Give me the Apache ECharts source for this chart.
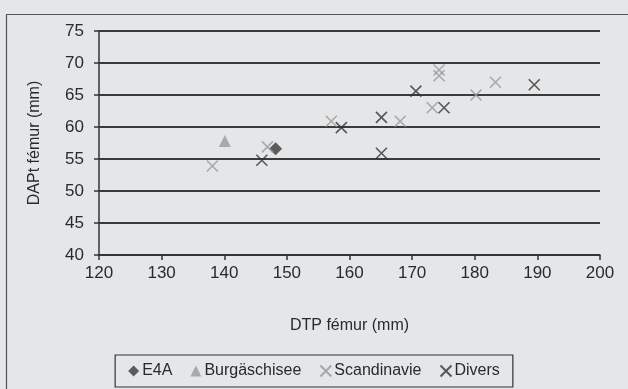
<!DOCTYPE html>
<html>
<head>
<meta charset="utf-8">
<script src="https://cdn.jsdelivr.net/npm/echarts@6/dist/echarts.min.js"></script>
<style>
html,body{margin:0;padding:0;background:#e4e6e8;}
#c{width:628px;height:389px;}
</style>
</head>
<body>
<div id="c"></div>
<script>
var xTicks = [120, 130, 140, 150, 160, 170, 180, 190, 200];
var yTicks = [40, 45, 50, 55, 60, 65, 70, 75];
var seriesNames = ['E4A', 'Burgäschisee', 'Scandinavie', 'Divers'];
var e4a = [[148.2, 56.6]];
var burgaschisee = [[140.1, 57.8]];
var scandinavie = [
  [138.1, 53.9], [146.9, 56.9], [157.1, 60.9], [168.1, 60.9],
  [173.2, 63.0], [174.3, 68.9], [174.3, 68.0], [180.2, 65.0], [183.3, 67.0]
];
var divers = [
  [146.0, 54.8], [158.7, 59.9], [165.1, 61.5], [165.1, 55.9],
  [170.6, 65.6], [175.1, 63.0], [189.5, 66.6]
];

var crossPath = 'path://M0,0L10,10M10,0L0,10';
var font = 'Liberation Sans, Arial, sans-serif';
var chart = echarts.init(document.getElementById('c'));
chart.setOption({
  backgroundColor: '#e4e6e8',
  animation: false,
  textStyle: {fontFamily: font},
  graphic: [{
    type: 'rect', left: 4, top: 12,
    shape: {width: 700, height: 500},
    style: {fill: 'none', stroke: '#555', lineWidth: 1.2}
  }],
  grid: {left: 99, right: 28, top: 31, bottom: 134},
  xAxis: {
    type: 'value', min: xTicks[0], max: xTicks[xTicks.length - 1], interval: 10,
    name: 'DTP fémur (mm)', nameLocation: 'middle', nameGap: 63,
    nameTextStyle: {fontSize: 16, color: '#2a2a2a', fontFamily: font},
    axisLine: {lineStyle: {color: '#333', width: 1.5}},
    axisTick: {show: true, length: 5, lineStyle: {color: '#333', width: 1.5}},
    axisLabel: {fontSize: 17, color: '#2a2a2a', margin: 10, fontFamily: font},
    splitLine: {show: false}
  },
  yAxis: {
    type: 'value', min: yTicks[0], max: yTicks[yTicks.length - 1], interval: 5,
    name: 'DAPt fémur (mm)', nameLocation: 'middle', nameGap: 56,
    nameTextStyle: {fontSize: 16, color: '#2a2a2a', fontFamily: font},
    axisLine: {show: true, lineStyle: {color: '#333', width: 1.5}},
    axisTick: {show: true, length: 5, lineStyle: {color: '#333', width: 1.5}},
    axisLabel: {fontSize: 17, color: '#2a2a2a', margin: 15, fontFamily: font},
    splitLine: {show: true, lineStyle: {color: '#3a3a3a', width: 2}}
  },
  legend: {
    bottom: 2, left: 'center',
    data: [
      {name: seriesNames[0], icon: 'diamond'},
      {name: seriesNames[1], icon: 'triangle'},
      {name: seriesNames[2], icon: crossPath},
      {name: seriesNames[3], icon: crossPath}
    ],
    itemWidth: 11, itemHeight: 11, itemGap: 18,
    borderColor: '#333', borderWidth: 1.2, padding: [8, 13, 8, 13],
    textStyle: {fontSize: 16, color: '#2a2a2a', fontFamily: font, padding: [0, 0, 0, -2]}
  },
  series: [
    {
      name: seriesNames[0], type: 'scatter', data: e4a,
      symbol: 'diamond', symbolSize: 13,
      itemStyle: {color: '#3a3a3a'}
    },
    {
      name: seriesNames[1], type: 'scatter', data: burgaschisee,
      symbol: 'triangle', symbolSize: 12,
      itemStyle: {color: '#9a9a9a'}
    },
    {
      name: seriesNames[2], type: 'scatter', data: scandinavie,
      symbol: crossPath, symbolSize: 11,
      itemStyle: {color: 'transparent', borderColor: '#999', borderWidth: 1.6}
    },
    {
      name: seriesNames[3], type: 'scatter', data: divers,
      symbol: crossPath, symbolSize: 11,
      itemStyle: {color: 'transparent', borderColor: '#333', borderWidth: 1.6}
    }
  ]
});
</script>
</body>
</html>
